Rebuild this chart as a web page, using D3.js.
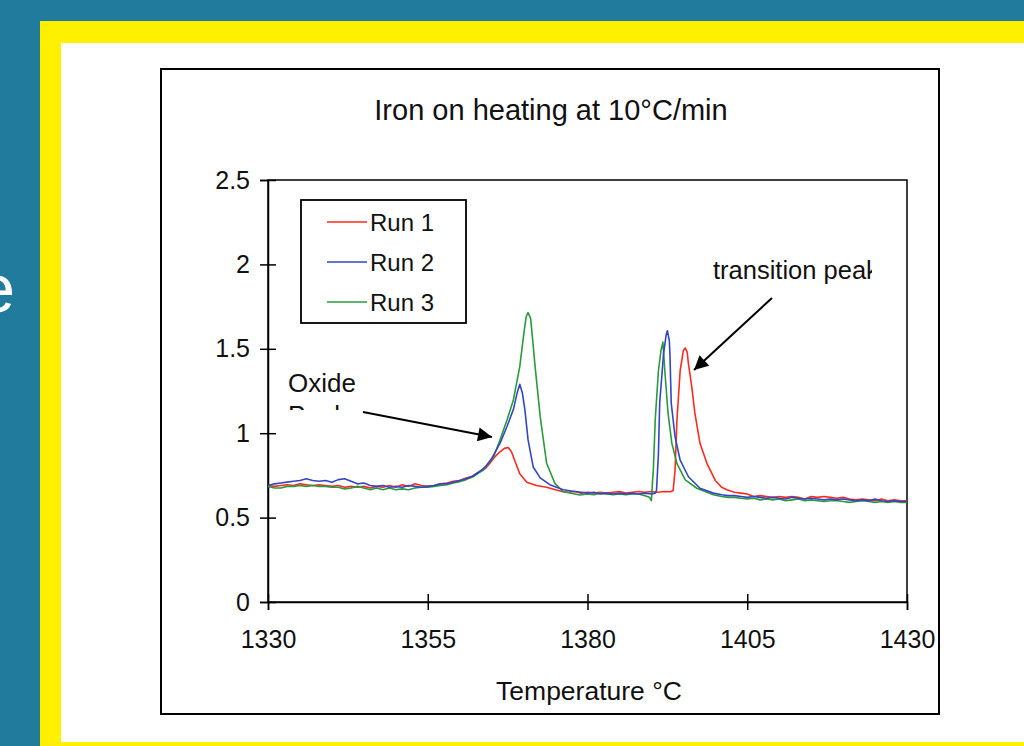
<!DOCTYPE html>
<html><head><meta charset="utf-8">
<script src="https://cdn.jsdelivr.net/npm/d3@7"></script>
<style>body{margin:0;background:#217b9d;}svg{display:block;font-family:"Liberation Sans",Arial,sans-serif;}</style>
</head><body>
<svg id="c" width="1024" height="746"></svg>
<script>
const title = "Iron on heating at 10°C/min";
const xLabel = "Temperature °C";
const xTicks = [1330, 1355, 1380, 1405, 1430];
const yTicks = [0, 0.5, 1, 1.5, 2, 2.5];
const seriesNames = ["Run 1", "Run 2", "Run 3"];
const seriesColors = ["#ff2a1f", "#3346c4", "#2b9a3c"];

const run1Temp = [1330,1331,1332,1333,1334,1335,1336,1337,1338,1339,1340,1341,1342,1343,1344,1345,1346,1347,1348,1349,1350,1351,1352,1353,1354,1355,1356,1357,1358,1359,1360,1361,1362,1363,1364,1364.7,1365.5,1366.3,1367,1367.6,1368.1,1368.6,1369.4,1370.5,1372,1373.6,1375,1376,1377,1378,1379,1380,1381,1382,1383,1384,1385,1386,1387,1388,1389,1390,1391,1392,1393,1393.4,1393.7,1394,1394.5,1395,1395.3,1395.6,1395.8,1396.3,1396.8,1397.6,1398.7,1400,1401,1401.8,1403,1404,1405,1406,1407,1408,1409,1410,1411,1412,1413,1414,1415,1416,1417,1418,1419,1420,1421,1422,1423,1424,1425,1426,1427,1428,1429,1430];
const run1Val = [0.69,0.685,0.69,0.695,0.69,0.70,0.695,0.69,0.695,0.69,0.685,0.69,0.68,0.685,0.68,0.685,0.675,0.685,0.68,0.69,0.68,0.695,0.685,0.70,0.69,0.685,0.69,0.70,0.705,0.715,0.72,0.735,0.745,0.77,0.79,0.82,0.86,0.89,0.91,0.915,0.89,0.84,0.76,0.71,0.69,0.68,0.665,0.655,0.65,0.655,0.645,0.65,0.645,0.65,0.645,0.65,0.655,0.645,0.65,0.655,0.65,0.655,0.65,0.655,0.653,0.66,0.78,1.08,1.37,1.49,1.505,1.48,1.41,1.28,1.12,0.94,0.82,0.72,0.68,0.665,0.65,0.645,0.64,0.625,0.63,0.625,0.62,0.625,0.62,0.625,0.62,0.61,0.625,0.62,0.625,0.62,0.615,0.62,0.61,0.605,0.61,0.605,0.60,0.61,0.60,0.605,0.60,0.60];

const run2Temp = [1330,1331,1332,1333,1334,1335,1336,1337,1338,1339,1340,1341,1342,1343,1344,1345,1346,1347,1348,1349,1350,1351,1352,1353,1354,1355,1356,1357,1358,1359,1360,1361,1362,1363,1364,1365,1366.3,1367.4,1368.4,1369,1369.4,1369.8,1370.2,1370.7,1371.5,1372.6,1374.1,1376.2,1378,1379,1380,1381,1382,1383,1384,1385,1386,1387,1388,1389,1390,1390.6,1390.8,1391.1,1391.3,1391.9,1392.3,1392.5,1392.8,1392.9,1393.1,1393.7,1394.5,1395.8,1397.6,1399.7,1401,1402,1403,1404,1405,1406,1407,1408,1409,1410,1411,1412,1413,1414,1415,1416,1417,1418,1419,1420,1421,1422,1423,1424,1425,1426,1427,1428,1429,1430];
const run2Val = [0.69,0.70,0.705,0.71,0.715,0.72,0.73,0.72,0.715,0.72,0.71,0.725,0.73,0.715,0.70,0.705,0.69,0.685,0.69,0.68,0.685,0.68,0.69,0.685,0.68,0.685,0.69,0.70,0.70,0.71,0.72,0.73,0.745,0.77,0.80,0.85,0.94,1.04,1.14,1.24,1.29,1.24,1.14,0.96,0.80,0.735,0.695,0.665,0.655,0.65,0.645,0.65,0.64,0.645,0.64,0.645,0.64,0.645,0.64,0.645,0.64,0.645,0.66,0.88,1.18,1.47,1.58,1.607,1.55,1.47,1.18,0.98,0.84,0.742,0.674,0.645,0.635,0.63,0.63,0.625,0.62,0.625,0.62,0.615,0.62,0.615,0.61,0.62,0.615,0.61,0.615,0.61,0.605,0.61,0.605,0.61,0.605,0.60,0.605,0.60,0.61,0.60,0.595,0.60,0.595,0.595];

const run3Temp = [1330,1331,1332,1333,1334,1335,1336,1337,1338,1339,1340,1341,1342,1343,1344,1345,1346,1347,1348,1349,1350,1351,1352,1353,1354,1355,1356,1357,1358,1359,1360,1361,1362.1,1363,1363.7,1364.5,1365.3,1366.3,1367.4,1368.4,1369.4,1370,1370.4,1370.7,1371.1,1371.5,1371.8,1372.6,1373.6,1374.9,1376.2,1378.8,1380,1381,1382,1383,1384,1385,1386,1387,1388,1389,1389.7,1390,1390.15,1390.3,1390.6,1391.1,1391.5,1391.8,1392.1,1392.6,1393.2,1394,1395.3,1397.1,1399.7,1401,1402,1403,1404,1405,1406,1407,1408,1409,1410,1411,1412,1413,1414,1415,1416,1417,1418,1419,1420,1421,1422,1423,1424,1425,1426,1427,1428,1429,1430];
const run3Val = [0.685,0.675,0.675,0.685,0.685,0.69,0.685,0.69,0.685,0.685,0.68,0.68,0.67,0.675,0.685,0.675,0.665,0.675,0.665,0.675,0.665,0.67,0.665,0.675,0.68,0.68,0.685,0.69,0.695,0.705,0.713,0.725,0.742,0.765,0.782,0.82,0.861,0.96,1.078,1.197,1.394,1.58,1.69,1.714,1.68,1.52,1.394,1.098,0.822,0.703,0.653,0.634,0.64,0.635,0.645,0.64,0.635,0.64,0.635,0.64,0.64,0.63,0.62,0.60,0.70,0.78,1.08,1.37,1.49,1.54,1.37,1.12,0.94,0.82,0.723,0.674,0.635,0.625,0.62,0.62,0.615,0.61,0.615,0.605,0.61,0.605,0.61,0.60,0.605,0.61,0.60,0.605,0.60,0.595,0.60,0.60,0.595,0.59,0.595,0.60,0.595,0.59,0.595,0.59,0.595,0.59,0.59];

const svg = d3.select("#c");
// slide frame
svg.append("rect").attr("x",0).attr("y",0).attr("width",1024).attr("height",746).attr("fill","#217b9d");
svg.append("rect").attr("x",40).attr("y",21).attr("width",1000).attr("height",740).attr("fill","#fff000");
svg.append("rect").attr("x",61).attr("y",43).attr("width",980).attr("height",699).attr("fill","#ffffff");
svg.append("text").attr("x",15).attr("y",312).attr("text-anchor","end").attr("font-size",68).attr("fill","#ffffff").text("e");

// chart outer box
svg.append("rect").attr("x",161).attr("y",69).attr("width",778).attr("height",645).attr("fill","#fff").attr("stroke","#000").attr("stroke-width",2);

const x = d3.scaleLinear().domain([1330,1430]).range([268,907]);
const y = d3.scaleLinear().domain([0,2.5]).range([602,180]);

// plot area border
svg.append("rect").attr("x",x(1330)).attr("y",y(2.5)).attr("width",x(1430)-x(1330)).attr("height",y(0)-y(2.5)).attr("fill","none").attr("stroke","#000").attr("stroke-width",1.5);

// axes
const xAxis = svg.append("g").attr("transform",`translate(0,${y(0)})`)
  .call(d3.axisBottom(x).tickValues(xTicks).tickSize(8).tickPadding(20).tickFormat(d3.format("d")));
xAxis.select(".domain").attr("stroke","#000").attr("stroke-width",1.5);
xAxis.selectAll(".tick line").attr("y1",-8).attr("stroke-width",1.5);
xAxis.selectAll("text").attr("font-size",25).attr("fill","#111").attr("font-family","Liberation Sans, Arial, sans-serif");

const yAxis = svg.append("g").attr("transform",`translate(${x(1330)},0)`)
  .call(d3.axisLeft(y).tickValues(yTicks).tickSize(8).tickPadding(10).tickFormat(d => d3.format("")(d)));
yAxis.select(".domain").attr("stroke","#000").attr("stroke-width",1.5);
yAxis.selectAll(".tick line").attr("x1",8).attr("x2",-8).attr("stroke-width",1.5);
yAxis.selectAll("text").attr("font-size",25).attr("fill","#111").attr("font-family","Liberation Sans, Arial, sans-serif");

// series
const series = [[run1Temp,run1Val],[run2Temp,run2Val],[run3Temp,run3Val]];
const line = d3.line().x(d=>x(d[0])).y(d=>y(d[1]));
[0,2,1].forEach(i => {
  const pts = d3.zip(series[i][0], series[i][1]);
  svg.append("path").datum(pts).attr("d",line).attr("fill","none")
    .attr("stroke",seriesColors[i]).attr("stroke-width",1.6).attr("stroke-linejoin","round");
});

// title and axis label
svg.append("text").attr("x",551).attr("y",120).attr("text-anchor","middle").attr("font-size",29).attr("fill","#111").text(title);
svg.append("text").attr("x",589).attr("y",700).attr("text-anchor","middle").attr("font-size",26.5).attr("fill","#111").text(xLabel);

// legend
const lg = svg.append("g");
lg.append("rect").attr("x",301).attr("y",200).attr("width",165).attr("height",123).attr("fill","#fff").attr("stroke","#000").attr("stroke-width",1.8);
seriesNames.forEach((n,i) => {
  const ly = 222 + i*40;
  lg.append("line").attr("x1",327).attr("x2",367).attr("y1",ly).attr("y2",ly).attr("stroke",seriesColors[i]).attr("stroke-width",1.6);
  lg.append("text").attr("x",370).attr("y",ly+9).attr("font-size",24).attr("fill","#111").text(n);
});

// arrow marker
const defs = svg.append("defs");
defs.append("marker").attr("id","ah").attr("viewBox","0 0 10 10").attr("refX",10).attr("refY",5)
  .attr("markerWidth",15).attr("markerHeight",14).attr("markerUnits","userSpaceOnUse").attr("orient","auto")
  .append("path").attr("d","M0,0 L10,5 L0,10 Z").attr("fill","#000");
defs.append("clipPath").attr("id","clipOx").append("rect").attr("x",280).attr("y",360).attr("width",150).attr("height",50);
defs.append("clipPath").attr("id","clipTr").append("rect").attr("x",700).attr("y",240).attr("width",172).attr("height",60);

// annotations
const ox = svg.append("g").attr("clip-path","url(#clipOx)");
ox.append("text").attr("x",288).attr("y",392).attr("font-size",26).attr("fill","#111").text("Oxide");
ox.append("text").attr("x",288).attr("y",424).attr("font-size",26).attr("fill","#111").text("Peak");
svg.append("line").attr("x1",363).attr("y1",412).attr("x2",492).attr("y2",437).attr("stroke","#000").attr("stroke-width",2).attr("marker-end","url(#ah)");

svg.append("g").attr("clip-path","url(#clipTr)").append("text").attr("x",713).attr("y",279).attr("font-size",25.5).attr("fill","#111").text("transition peak");
svg.append("line").attr("x1",772).attr("y1",298).attr("x2",694).attr("y2",370).attr("stroke","#000").attr("stroke-width",2).attr("marker-end","url(#ah)");
</script>
</body></html>
